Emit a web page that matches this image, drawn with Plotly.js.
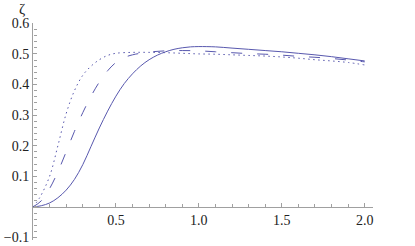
<!DOCTYPE html>
<html>
<head>
<meta charset="utf-8">
<script src="https://cdn.plot.ly/plotly-3.0.1.min.js"></script>
<style>html,body{margin:0;padding:0;background:#fff;}#chart{width:415px;height:246px;}</style>
</head>
<body>
<div id="chart"></div>
<script>
const tSolid = [0, 0.05, 0.1, 0.15, 0.2, 0.25, 0.3, 0.35, 0.4, 0.45, 0.5, 0.55, 0.6, 0.65, 0.7, 0.75, 0.8, 0.85, 0.9, 0.95, 1.0, 1.1, 1.2, 1.3, 1.4, 1.5, 1.6, 1.7, 1.8, 1.9, 2.0];
const zetaSolid = [0, 0.004, 0.013, 0.03, 0.055, 0.09, 0.138, 0.198, 0.258, 0.313, 0.362, 0.403, 0.435, 0.461, 0.481, 0.496, 0.507, 0.515, 0.52, 0.523, 0.524, 0.523, 0.519, 0.515, 0.511, 0.507, 0.502, 0.497, 0.491, 0.484, 0.477];

const tDashed = [0, 0.05, 0.1, 0.15, 0.2, 0.25, 0.3, 0.35, 0.4, 0.45, 0.5, 0.55, 0.6, 0.7, 0.8, 0.9, 1.0, 1.1, 1.2, 1.3, 1.4, 1.5, 1.6, 1.7, 1.8, 1.9, 2.0];
const zetaDashed = [0, 0.02, 0.06, 0.115, 0.18, 0.247, 0.308, 0.362, 0.408, 0.445, 0.472, 0.488, 0.497, 0.506, 0.51, 0.511, 0.51, 0.507, 0.504, 0.501, 0.499, 0.496, 0.492, 0.489, 0.485, 0.48, 0.474];

const tDotted = [0, 0.04, 0.1, 0.15, 0.2, 0.25, 0.3, 0.35, 0.4, 0.45, 0.5, 0.6, 0.7, 0.8, 0.9, 1.0, 1.1, 1.2, 1.3, 1.4, 1.5, 1.6, 1.7, 1.8, 1.9, 2.0];
const zetaDotted = [0, 0.03, 0.1, 0.2, 0.305, 0.38, 0.43, 0.46, 0.481, 0.495, 0.502, 0.505, 0.505, 0.504, 0.502, 0.5, 0.499, 0.497, 0.495, 0.493, 0.49, 0.486, 0.481, 0.477, 0.472, 0.464];

const xTickVals = [0.5, 1.0, 1.5, 2.0];
const xTickText = ["0.5", "1.0", "1.5", "2.0"];
const yTickVals = [-0.1, 0.1, 0.2, 0.3, 0.4, 0.5, 0.6];
const yTickText = ["\u22120.1", "0.1", "0.2", "0.3", "0.4", "0.5", "0.6"];

const lineColor = "#5858ae";
const yMin = -0.108, yMax = 0.601;
const xMax = 2.05;
const xAxisPos = (0 - yMin) / (yMax - yMin);

const traces = [
  {x: tSolid, y: zetaSolid, mode: "lines", line: {color: lineColor, width: 1, shape: "spline", smoothing: 1}},
  {x: tDashed, y: zetaDashed, mode: "lines", line: {color: lineColor, width: 1, shape: "spline", smoothing: 1, dash: "11px,15px"}},
  {x: tDotted, y: zetaDotted, mode: "lines", line: {color: lineColor, width: 1, shape: "spline", smoothing: 1, dash: "1.5px,3.5px"}},
  {x: [], y: [], xaxis: "x2", yaxis: "y2", mode: "lines", hoverinfo: "skip"}
];

const axisGray = "#a0a0a0";
const serif = "Liberation Serif";
const tickFont = {family: serif, size: 14, color: "#222"};

const layout = {
  width: 415, height: 246,
  margin: {l: 33, r: 42, t: 23, b: 6},
  paper_bgcolor: "#fff", plot_bgcolor: "#fff",
  showlegend: false,
  font: {family: serif, size: 14, color: "#222"},
  xaxis: {
    range: [0, xMax], anchor: "free", position: xAxisPos,
    showgrid: false, zeroline: false, showline: true, linecolor: axisGray, linewidth: 1,
    ticks: "inside", ticklen: 4, tickcolor: axisGray, tickwidth: 1,
    tickmode: "array", tickvals: xTickVals, ticktext: xTickText, tickfont: tickFont
  },
  yaxis: {
    range: [yMin, yMax],
    showgrid: false, zeroline: false, showline: true, linecolor: axisGray, linewidth: 1,
    ticks: "inside", ticklen: 4, tickcolor: axisGray, tickwidth: 1,
    tickmode: "array", tickvals: yTickVals, ticktext: yTickText, tickfont: tickFont
  },
  xaxis2: {
    overlaying: "x", range: [0, xMax], anchor: "free", position: xAxisPos,
    showgrid: false, zeroline: false, showline: false, showticklabels: false,
    ticks: "inside", ticklen: 2.5, tickcolor: axisGray, tickwidth: 1, tickmode: "linear", tick0: 0, dtick: 0.1
  },
  yaxis2: {
    overlaying: "y", range: [yMin, yMax], anchor: "free", position: 0,
    showgrid: false, zeroline: false, showline: false, showticklabels: false,
    ticks: "inside", ticklen: 2.5, tickcolor: axisGray, tickwidth: 1, tickmode: "linear", tick0: 0, dtick: 0.02
  },
  annotations: [
    {text: "\u03b6", xref: "paper", yref: "paper", x: -0.032, y: 1.0, xanchor: "center", yanchor: "middle", yshift: 14, showarrow: false,
     font: {family: serif, size: 15, color: "#222"}},
    {text: "t", xref: "x", yref: "y", x: 2.12, y: 0.013, xanchor: "center", yanchor: "middle", showarrow: false,
     font: {family: serif, size: 14, color: "#222"}}
  ]
};

Plotly.newPlot("chart", traces, layout, {displayModeBar: false, staticPlot: true});
</script>
</body>
</html>
